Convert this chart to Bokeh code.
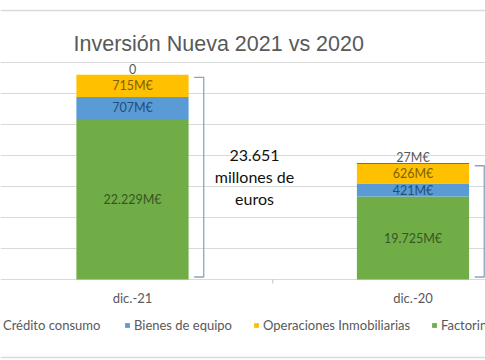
from bokeh.plotting import figure
from bokeh.models import (Range1d, ColumnDataSource, Legend, LegendItem, Label,
                          Span, FixedTicker, Grid)
from bokeh.core.properties import value
from bokeh.embed import file_html
from bokeh.resources import INLINE

# ---------------- data ----------------
categories = ["dic.-21", "dic.-20"]
factoring = [22229, 19725]
bienes_equipo = [707, 421]
operaciones_inmob = [715, 626]
credito_consumo = [0, 27]
axis_break = 17050          # the value axis is cut: green bars start above this value
series_names = ["Factoring", "Bienes de equipo", "Operaciones Inmobiliarias", "Crédito consumo"]
legend_order = ["Crédito consumo", "Bienes de equipo", "Operaciones Inmobiliarias", "Factoring"]
title_text = "Inversión Nueva 2021 vs 2020"
total_caption = ["millones de", "euros"]
grid_ticks = [0, 1000, 2000, 3000, 4000, 5000, 6000, 7000]

# ---------------- layout / styles ----------------
W, H = 485, 360
PX = 1000 / 31.0           # data units per pixel (vertical)
Y0 = 279                   # pixel row of the zero line (from top)
XS = 280.5                 # pixels per category step
X0 = 132                   # pixel column of the first category centre
seg_colors = ["#70AD47", "#5B9BD5", "#FFC000", "#404040"]
lab_colors = ["#375623", "#1F4E79", "#7F6000", "#595959"]
GRID = "#d9d9d9"
TXT = "#595959"
LABEL_FONT = "Lato"

p = figure(width=W, height=H, output_backend="svg", toolbar_location=None, title=None,
           x_range=Range1d(0.5 - X0 / XS, 0.5 + (W - X0) / XS),
           y_range=Range1d(-(H - Y0) * PX, Y0 * PX),
           x_axis_location=None, y_axis_location=None, min_border=0)
p.outline_line_color = None
p.background_fill_color = "white"
p.border_fill_color = "white"
for g in p.grid:
    g.visible = False

p.add_layout(Grid(dimension=1, ticker=FixedTicker(ticks=grid_ticks),
                  grid_line_color=GRID, grid_line_width=1))
# chart-area border lines (top and bottom of the cropped chart box)
p.add_layout(Span(location=(Y0 - 10) * PX, dimension="width", line_color=GRID, line_width=1.6))
p.add_layout(Span(location=-(357 - Y0) * PX, dimension="width", line_color=GRID, line_width=1.6))

xs = [i + 0.5 for i in range(len(categories))]
src = ColumnDataSource(dict(
    x=xs, cat=categories,
    f=[v - axis_break for v in factoring],
    b=bienes_equipo, o=operaciones_inmob, c=credito_consumo))
stackers = ["f", "b", "o", "c"]
rends = p.vbar_stack(stackers, x="x", width=0.4, source=src,
                     fill_color=seg_colors, line_color=None)

# category tick between the two categories + category labels
p.segment(x0=[1.0], x1=[1.0], y0=[0], y1=[-4 * PX], line_color="#bfbfbf", line_width=1)
p.text(x=xs, y=[0, 0], text=categories, y_offset=18, text_align="center",
       text_baseline="middle", text_font=value(LABEL_FONT), text_font_size="13px",
       text_color=TXT)

# segment labels
def fmt(v):
    return "0" if v == 0 else f"{v:,}".replace(",", ".") + "M€"

real = [factoring, bienes_equipo, operaciones_inmob, credito_consumo]
plotted = [src.data[k] for k in stackers]
lx, ly, lt, lc, loff = [], [], [], [], []
totals_plot = []
for i in range(len(categories)):
    base = 0
    for s in range(len(stackers)):
        h = plotted[s][i]
        if s < 3:
            lx.append(xs[i]); ly.append(base + h / 2); lt.append(fmt(real[s][i]))
            lc.append(lab_colors[s]); loff.append(0)
        base += h
    totals_plot.append(base)
    lx.append(xs[i]); ly.append(base); lt.append(fmt(credito_consumo[i]))
    lc.append(lab_colors[3]); loff.append(-6)
p.text(x=lx, y=ly, text=lt, text_color=lc, y_offset=loff, text_align="center",
       text_baseline="middle", text_font=value(LABEL_FONT), text_font_size="12.5px")

# brackets to the right of each bar
bx, by = [], []
for i in range(len(categories)):
    xv, xt = xs[i] + 0.254, xs[i] + 0.22
    top, bot = totals_plot[i] - 80, 80
    bx.append([xt, xv, xv, xt]); by.append([top, top, bot, bot])
p.multi_line(xs=bx, ys=by, line_color="#8fa3bd", line_width=1.3)

# total caption
total_2021 = sum(r[0] for r in real)
cap = f"{total_2021:,}".replace(",", ".") + "\n" + "\n".join(total_caption)
p.add_layout(Label(x=254, y=H - 176, x_units="screen", y_units="screen", text=cap,
                   text_align="center", text_baseline="middle", text_font=LABEL_FONT,
                   text_font_size="16px", text_color="#111111", text_line_height=1.17))

# title
p.add_layout(Label(x=73, y=H - 43.3, x_units="screen", y_units="screen", text=title_text,
                   text_baseline="alphabetic", text_font="Liberation Sans",
                   text_font_size="21.5px", text_color=TXT))

# legend (one entry each, placed along one row)
name_to_r = dict(zip(series_names, rends))
legend_x = [-7, 124, 253, 431]
for name, lxp in zip(legend_order, legend_x):
    lg = Legend(items=[LegendItem(label=name, renderers=[name_to_r[name]])],
                location=(lxp, 27), orientation="horizontal", padding=0, margin=0,
                spacing=0, border_line_color=None, background_fill_alpha=0,
                glyph_width=6, glyph_height=6, label_standoff=4, label_height=16,
                label_text_font=LABEL_FONT, label_text_font_size="13px",
                label_text_color=TXT)
    p.add_layout(lg)

open("out.html", "w").write(file_html(p, INLINE))
